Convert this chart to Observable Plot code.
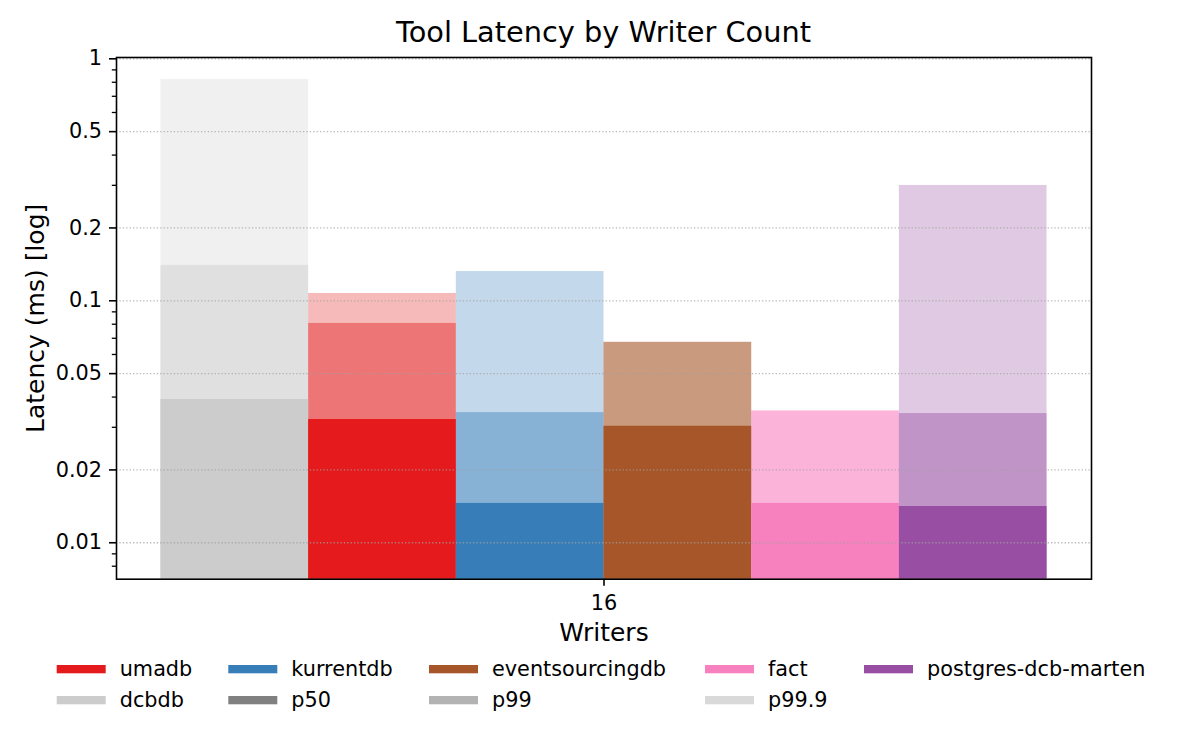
<!DOCTYPE html>
<html>
<head>
<meta charset="utf-8">
<script src="https://cdn.jsdelivr.net/npm/d3@7"></script>
<script src="https://cdn.jsdelivr.net/npm/@observablehq/plot@0.6"></script>
<style>
  body { margin: 0; background: #fff; }
  #chart { position: relative; width: 1200px; height: 750px; }
</style>
</head>
<body>
<div id="chart"></div>
<script>
// ---- data ----
const writers = ["16"];
const databases = ["dcbdb", "umadb", "kurrentdb", "eventsourcingdb", "fact", "postgres-dcb-marten"];
const p50 = [0.0391, 0.0323, 0.01454, 0.0303, 0.01454, 0.01412];
const p99 = [0.140, 0.0806, 0.0345, 0.0673, 0.0349, 0.0342];
const p999 = [0.821, 0.1072, 0.1321, 0.0674, 0.0352, 0.2996];
const dbColors = ["#cccccc", "#e41a1c", "#377eb8", "#a65628", "#f781bf", "#984ea3"];
const yTicks = [1, 0.5, 0.2, 0.1, 0.05, 0.02, 0.01];
const yTickLabels = ["1", "0.5", "0.2", "0.1", "0.05", "0.02", "0.01"];
const yMinorTicks = [0.008, 0.009, 0.03, 0.04, 0.06, 0.07, 0.08, 0.09, 0.3, 0.4, 0.6, 0.7, 0.8, 0.9];
const legendSeries = ["umadb", "kurrentdb", "eventsourcingdb", "fact", "postgres-dcb-marten", "dcbdb"];
const percentiles = ["p50", "p99", "p99.9"];
const percentileColors = ["#808080", "#b3b3b3", "#d9d9d9"];

const rows = databases.map((db, i) => ({writers: writers[0], db, p50: p50[i], p99: p99[i], p999: p999[i]}));
const yDomain = [0.00707, 1.0125];
const font = "DejaVu Sans";

const plot = Plot.plot({
  width: 1200,
  height: 750,
  marginTop: 57,
  marginBottom: 171.3,
  marginLeft: 116,
  marginRight: 109,
  style: {fontFamily: font, fontSize: "20.8px", color: "#000", background: "#fff"},
  fx: {domain: writers, paddingInner: 0, paddingOuter: 0, round: false},
  x: {domain: databases, paddingInner: 0, paddingOuter: 0.301, round: false, axis: null},
  y: {type: "log", domain: yDomain},
  color: {domain: databases, range: dbColors},
  marks: [
    Plot.barY(rows, {fx: "writers", x: "db", y1: yDomain[0], y2: "p999", fill: "db", fillOpacity: 0.3}),
    Plot.barY(rows, {fx: "writers", x: "db", y1: yDomain[0], y2: "p99", fill: "db", fillOpacity: 0.4286}),
    Plot.barY(rows, {fx: "writers", x: "db", y1: yDomain[0], y2: "p50", fill: "db"}),
    Plot.ruleY(yTicks, {stroke: "#a0a0a0", strokeOpacity: 0.75, strokeWidth: 1.3, strokeDasharray: "1.3,2.1"}),
    Plot.axisY(yMinorTicks, {tickSize: 4.2, tickFormat: () => "", strokeWidth: 1.3, label: null}),
    Plot.axisY(yTicks, {tickSize: 7, tickPadding: 7.5, tickFormat: d => yTickLabels[yTicks.indexOf(d)], fontSize: 20.8, strokeWidth: 1.6, label: null}),
    Plot.axisFx({anchor: "bottom", tickSize: 7, tickPadding: 9, label: null, fontSize: 20.8, strokeWidth: 1.6}),
    Plot.text(["Writers"], {frameAnchor: "bottom", dy: 62, fontSize: 25, lineAnchor: "bottom", textAnchor: "middle"}),
    Plot.text(["Latency (ms) [log]"], {frameAnchor: "left", dx: -73, rotate: -90, fontSize: 25, lineAnchor: "bottom", textAnchor: "middle"}),
    Plot.frame({stroke: "#000", strokeWidth: 1.6})
  ]
});

document.getElementById("chart").appendChild(plot);

// ---- title ----
const svg = d3.select(plot);
svg.append("text")
  .attr("x", 603.5).attr("y", 42)
  .attr("text-anchor", "middle")
  .attr("font-family", font).attr("font-size", 28.8).attr("fill", "#000")
  .text("Tool Latency by Writer Count");

// ---- legend ----
const legendItems = [
  ...legendSeries.map(s => ({label: s, color: dbColors[databases.indexOf(s)]})),
  ...percentiles.map((p, i) => ({label: p, color: percentileColors[i]}))
];
const colX = [56.7, 228.3, 429, 705, 864];
const rowPatchY = [665, 696];
const rowBaseline = [676, 706.7];
const lg = svg.append("g")
  .attr("font-family", font).attr("font-size", 20.8)
  .attr("text-anchor", "start");
legendItems.forEach((it, k) => {
  const col = k % 5, row = Math.floor(k / 5);
  lg.append("rect")
    .attr("x", colX[col]).attr("y", rowPatchY[row])
    .attr("width", 49).attr("height", 8.3)
    .attr("fill", it.color);
  lg.append("text")
    .attr("x", colX[col] + 63).attr("y", rowBaseline[row])
    .attr("text-anchor", "start")
    .attr("fill", "#000")
    .text(it.label);
});
</script>
</body>
</html>
